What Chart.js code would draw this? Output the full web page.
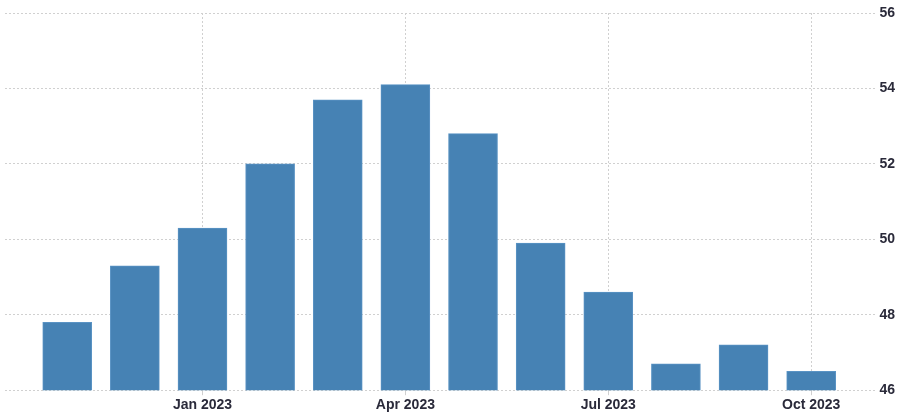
<!DOCTYPE html>
<html>
<head>
    <meta charset="utf-8">
    <script src="https://cdn.jsdelivr.net/npm/chart.js"></script>
    <title>Chart</title>
    <style>
        html, body { margin: 0; padding: 0; background: #fff; }
        .chart-box { width: 900px; height: 419px; position: relative; }
    </style>
</head>
<body>
    <div class="chart-box">
        <canvas id="chartBars"></canvas>
    </div>

    <script type="text/javascript">
        // meses Nov 2022 .. Oct 2023
        const months = ['Nov 2022', 'Dec 2022', 'Jan 2023', 'Feb 2023', 'Mar 2023', 'Apr 2023',
                        'May 2023', 'Jun 2023', 'Jul 2023', 'Aug 2023', 'Sep 2023', 'Oct 2023'];
        const values = [47.8, 49.3, 50.3, 52.0, 53.7, 54.1, 52.8, 49.9, 48.6, 46.7, 47.2, 46.5];
        const xTickLabels = ['Jan 2023', 'Apr 2023', 'Jul 2023', 'Oct 2023'];
        const yTicks = [46, 48, 50, 52, 54, 56];

        const points = values.map((v, i) => ({ x: i, y: v }));
        const xTickPos = xTickLabels.map(l => months.indexOf(l));

        const ctx = document.getElementById('chartBars').getContext('2d');
        new Chart(ctx, {
            type: 'bar',
            data: {
                datasets: [{
                    data: points,
                    backgroundColor: '#4682b4',
                    borderColor: '#5a93c4',
                    borderWidth: 1,
                    barThickness: 49
                }]
            },
            options: {
                responsive: true,
                maintainAspectRatio: false,
                animation: false,
                layout: { padding: { left: 5, right: 1, top: 13, bottom: 3 } },
                plugins: { legend: { display: false }, tooltip: { enabled: false } },
                scales: {
                    x: {
                        type: 'linear',
                        offset: false,
                        min: -0.92,
                        max: 11.95,
                        afterBuildTicks: axis => {
                            axis.ticks = xTickPos.map(v => ({ value: v }));
                        },
                        ticks: {
                            callback: v => months[v],
                            color: '#2a2a3a',
                            font: { family: 'Liberation Sans', size: 14, weight: 'bold' },
                            maxRotation: 0,
                            padding: 2
                        },
                        grid: { color: '#d0d0d0', tickLength: 5, offset: false },
                        border: { display: false, dash: [2, 2] }
                    },
                    y: {
                        position: 'right',
                        min: 46,
                        max: 56,
                        afterBuildTicks: axis => {
                            axis.ticks = yTicks.map(v => ({ value: v }));
                        },
                        ticks: {
                            color: '#2a2a3a',
                            font: { family: 'Liberation Sans', size: 14, weight: 'bold' },
                            padding: 4
                        },
                        grid: { color: '#d0d0d0', drawTicks: false },
                        border: { display: false, dash: [2, 2] }
                    }
                }
            }
        });
    </script>
</body>
</html>
